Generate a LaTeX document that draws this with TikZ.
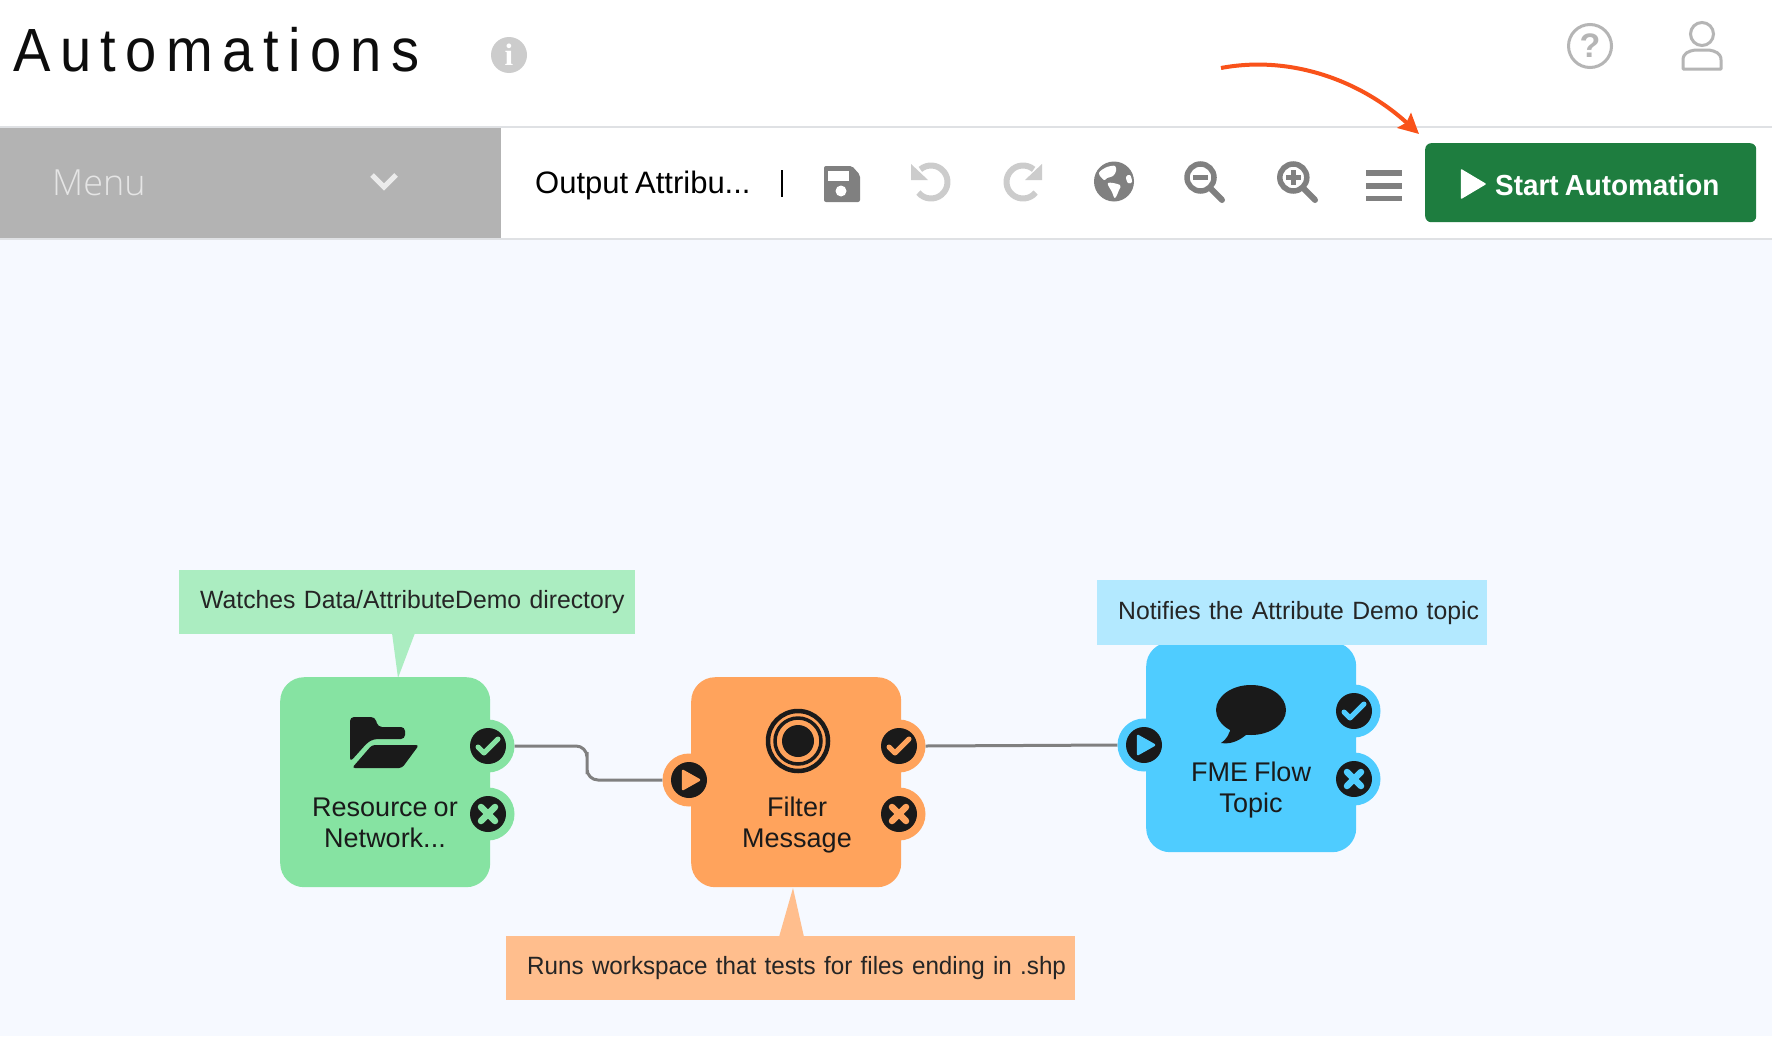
\documentclass[tikz,border=0pt]{standalone}
\usepackage{fontspec}
\setmainfont{Liberation Sans}
\newfontfamily\titlefont[LetterSpace=15.5,FakeStretch=0.92]{Liberation Sans}
\newfontfamily\notefont[FakeStretch=0.99,WordSpace=0.8]{Liberation Sans}
\newfontfamily\notefontb[FakeStretch=0.968,WordSpace=0.8]{Liberation Sans}
\newfontfamily\uifont[FakeStretch=1.0,WordSpace=0.8]{Liberation Sans}
\newfontfamily\boldfont[FakeStretch=0.96,WordSpace=0.8]{Liberation Sans}
\newfontfamily\thinfont[FakeStretch=1.0]{Open Sans Light}
\newfontfamily\slabfont{Liberation Serif}
\usetikzlibrary{arrows.meta,shapes.geometric}
\definecolor{pagebg}{HTML}{F6F9FF}
\definecolor{rulegray}{HTML}{DFE1E4}
\definecolor{menugray}{HTML}{B3B3B3}
\definecolor{icongray}{HTML}{808080}
\definecolor{iconlight}{HTML}{CCCCCC}
\definecolor{topicon}{HTML}{B5B5B5}
\definecolor{btngreen}{HTML}{1E7D3F}
\definecolor{arroworange}{HTML}{F9521A}
\definecolor{ink}{HTML}{1A1A1A}
\definecolor{greenbox}{HTML}{86E3A2}
\definecolor{greennote}{HTML}{ABEDC1}
\definecolor{orangebox}{HTML}{FFA35C}
\definecolor{orangenote}{HTML}{FFBE8D}
\definecolor{bluebox}{HTML}{4FCCFF}
\definecolor{bluenote}{HTML}{B3E9FF}
\tikzset{
  wf/.style={draw=none,inner sep=0pt,minimum width=210pt,minimum height=210pt,rounded corners=24pt,anchor=north west},
  note/.style={inner sep=0pt,anchor=north west,align=left,font=\notefont\fontsize{25}{28}\selectfont,text=ink!95},
  nlabel/.style={inner sep=0pt,align=center,font=\uifont\fontsize{27}{31}\selectfont,text=ink},
  portout/.style={circle,inner sep=0pt,minimum size=53pt},
  portin/.style={circle,inner sep=0pt,minimum size=36pt,fill=ink},
  link/.style={draw=icongray,line width=3pt,rounded corners=11pt},
  markline/.style={line width=5pt,line cap=round,line join=round},
}
\newcommand\portplay[4]{%
  \node[portout,fill=#4] (#1) at (#2,#3) {};
  \node[portin] (#1i) at (#2,#3) {};
  \fill[#4,draw=#4,line width=2.5pt,line join=round] (#2-6,#3-9) -- (#2+10,#3) -- (#2-6,#3+9) -- cycle;}
\newcommand\portcheck[4]{%
  \node[portout,fill=#4] (#1) at (#2,#3) {};
  \node[portin] (#1i) at (#2,#3) {};
  \draw[markline,#4] (#2-10,#3+1) -- (#2-4,#3+7) -- (#2+10,#3-7);}
\newcommand\portcross[4]{%
  \node[portout,fill=#4] (#1) at (#2,#3) {};
  \node[portin] (#1i) at (#2,#3) {};
  \draw[#4,line width=6.5pt,line cap=round] (#2-7,#3-7) -- (#2+7,#3+7) (#2-7,#3+7) -- (#2+7,#3-7);}
\begin{document}
\begin{tikzpicture}[x=1pt,y=-1pt]
\useasboundingbox (0,0) rectangle (1772,1036);
\fill[white] (0,0) rectangle (1772,1036);
\fill[pagebg] (0,238) rectangle (1772,1036);
\fill[rulegray] (0,126) rectangle (1772,128);
\fill[rulegray] (0,238) rectangle (1772,240);
\node[fill=menugray,inner sep=0pt,minimum width=501pt,minimum height=110pt,anchor=north west] (menu) at (0,128) {};
% header
\node[anchor=base west,inner sep=0pt,font=\titlefont\fontsize{61}{70}\selectfont,text=black!95] (title) at (13,71) {Automations};
\node[circle,fill=iconlight,minimum size=36pt,inner sep=0pt,font=\slabfont\bfseries\fontsize{31}{31}\selectfont,text=white] (info) at (509,55) {i};
\node[circle,draw=topicon,line width=3pt,minimum size=43pt,inner sep=0pt,font=\bfseries\fontsize{34}{34}\selectfont,text=topicon] (help) at (1590,46) {?};
\node[circle,draw=topicon,line width=3pt,minimum size=23pt,inner sep=0pt] (userhead) at (1702,34) {};
\draw[topicon,line width=3pt,line join=round] (1683,69) -- (1683,60) .. controls (1683,53) and (1689,51) .. (1695,50) -- (1709,50) .. controls (1715,51) and (1721,53) .. (1721,60) -- (1721,69) -- cycle;
% toolbar
\node[anchor=base west,inner sep=0pt,font=\thinfont\fontsize{36}{40}\selectfont,text=white!90!black] (menutext) at (52,195) {Menu};
\draw[white!92!black,line width=5pt] (372,175) -- (384,187) -- (396,175);
\node[anchor=base west,inner sep=0pt,font=\uifont\fontsize{31}{34}\selectfont,text=black] (doc) at (535,193) {Output Attribu...};
\fill[black] (781,170) rectangle (783,197);
% save
\fill[icongray,rounded corners=2pt] (824,166) -- (852,166) -- (860,175) -- (860,202) -- (824,202) -- cycle;
\fill[white] (828,171) rectangle (849,181);
\fill[white] (841,191) circle[radius=5.5];
% undo, redo
\draw[iconlight,line width=6pt] ([shift={(-130:16.5)}]931,182) arc[start angle=-130,end angle=140,radius=16.5];
\fill[iconlight] (911,164) -- (911,180) -- (928,180) -- cycle;
\draw[iconlight,line width=6pt] ([shift={(-50:16.5)}]1023,182) arc[start angle=-50,end angle=-320,radius=16.5];
\fill[iconlight] (1042,164) -- (1042,180) -- (1025,180) -- cycle;
% globe
\fill[icongray] (1114,181.5) circle[radius=20];
\fill[white] plot[smooth cycle,tension=0.6] coordinates {(1099,173) (1107,167) (1115,166) (1116,171) (1113,176) (1107,178) (1104,180)};
\fill[white] plot[smooth cycle,tension=0.6] coordinates {(1108,183) (1120,185) (1119,190) (1115,198) (1112,192)};
\fill[white] plot[smooth cycle,tension=0.6] coordinates {(1126,177) (1130,175) (1132,182) (1128,183)};
% magnifiers
\node[circle,draw=icongray,line width=5.5pt,minimum size=27pt,inner sep=0pt] (zoomout) at (1200.5,177.5) {};
\draw[icongray,line width=6pt,line cap=round] (1211,189) -- (1222,200);
\draw[icongray,line width=5pt] (1193,177.5) -- (1208,177.5);
\node[circle,draw=icongray,line width=5.5pt,minimum size=27pt,inner sep=0pt] (zoomin) at (1293.3,177.5) {};
\draw[icongray,line width=6pt,line cap=round] (1304,189) -- (1315,200);
\draw[icongray,line width=4.5pt] (1286,177.5) -- (1300.6,177.5) (1293.3,170) -- (1293.3,185);
% hamburger
\fill[icongray] (1366,170) rectangle (1402,175.5);
\fill[icongray] (1366,183) rectangle (1402,188.5);
\fill[icongray] (1366,195.5) rectangle (1402,201);
% start button
\node[fill=btngreen,rounded corners=6pt,inner sep=0pt,minimum width=331pt,minimum height=79pt,anchor=north west] (start) at (1425,143) {};
\fill[white,draw=white,line width=1.5pt,line join=round] (1461.5,170) -- (1485,184) -- (1461.5,198) -- cycle;
\node[anchor=base west,inner sep=0pt,font=\boldfont\bfseries\fontsize{29}{32}\selectfont,text=white] (starttext) at (1495,195) {Start Automation};
% red arrow
\coordinate (arrowfrom) at (1221,68);
\coordinate (arrowto) at (1419,134);
\draw[arroworange,line width=4pt,-{Stealth[length=20pt,width=20pt,inset=3pt]}] (arrowfrom) .. controls (1290,55) and (1360,80) .. (arrowto);
\begin{scope}[shift={(0,1)}]
% green workflow box
\fill[greennote] (392,632) -- (415,632) -- (398,677) -- cycle;
\node[wf,fill=greenbox] (res) at (280,676) {};
\node[note,fill=greennote,minimum height=64pt,text width=456pt] (resnote) at (179,569) {\hspace*{21pt}\raisebox{3.5pt}{Watches Data/AttributeDemo directory}};
% folder
\fill[ink,rounded corners=4pt] (350,761) -- (350,716) -- (375,716) -- (378,726) -- (405,726) -- (405,738) -- (374,738) -- (368,741) -- cycle;
\fill[ink,rounded corners=3pt] (352,767) -- (372,744) -- (419,744) -- (402,767) -- cycle;
\node[nlabel] (reslabel) at (385,821.5) {Resource or\\Network...};
\portcheck{rescheck}{488}{745}{greenbox}
\portcross{rescross}{488}{813}{greenbox}
% orange workflow box
\fill[orangenote] (779,936) -- (804,936) -- (793,887) -- cycle;
\node[wf,fill=orangebox] (filter) at (691,676) {};
\node[note,font=\notefontb\fontsize{25}{28}\selectfont,fill=orangenote,minimum height=64pt,text width=569pt] (filternote) at (506,935) {\hspace*{21pt}\raisebox{3pt}{Runs workspace that tests for files ending in .shp}};
\draw[ink,line width=4.5pt] (798,740) circle[radius=30];
\draw[ink,line width=3.5pt] (798,740) circle[radius=23];
\fill[ink] (798,740) circle[radius=16];
\node[nlabel] (filterlabel) at (797,824) {Filter\\Message};
\portplay{filterplay}{689}{779}{orangebox}
\portcheck{filtercheck}{899}{745}{orangebox}
\portcross{filtercross}{899}{813}{orangebox}
% blue workflow box
\node[wf,fill=bluebox] (topic) at (1146,641) {};
\node[note,fill=bluenote,minimum height=65pt,text width=390pt] (topicnote) at (1097,579) {\hspace*{21pt}\raisebox{5pt}{Notifies the Attribute Demo topic}};
\fill[ink] (1251,709) ellipse[x radius=35,y radius=25];
\fill[ink] (1231,725) .. controls (1230,733) and (1226,739) .. (1221,742) .. controls (1232,744) and (1242,738) .. (1248,732) -- cycle;
\node[nlabel] (topiclabel) at (1251,789.5) {FME Flow\\Topic};
\portplay{topicplay}{1144}{744}{bluebox}
\portcheck{topiccheck}{1354}{710}{bluebox}
\portcross{topiccross}{1354}{778}{bluebox}
% connectors
\coordinate (bend) at (587,762);
\draw[link] (rescheck.east) -| (bend) |- (filterplay.west);
\draw[link] (filtercheck.east) -- (topicplay.west);
\end{scope}
\end{tikzpicture}
\end{document}
